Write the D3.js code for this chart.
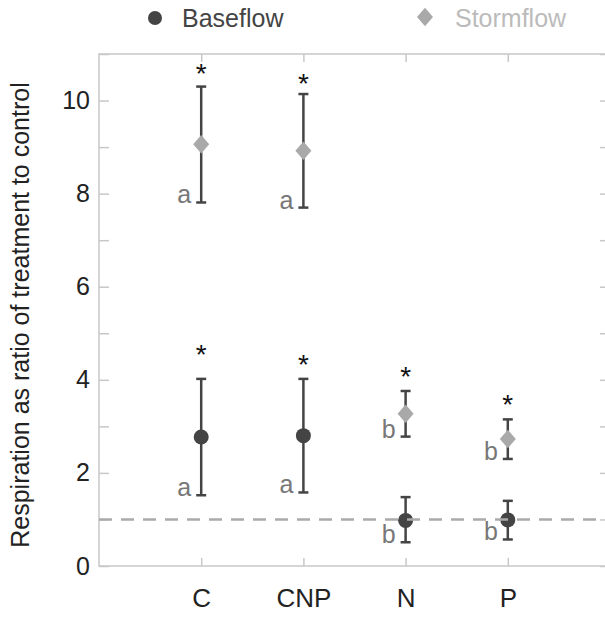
<!DOCTYPE html>
<html><head><meta charset="utf-8">
<script src="https://cdn.jsdelivr.net/npm/d3@7"></script>
<style>body{margin:0;background:#fff}svg{display:block}text{font-family:"Liberation Sans",Arial,sans-serif}</style>
</head><body>
<script>
const categories = ["C","CNP","N","P"];
const baseMean  = [2.77, 2.80, 0.98, 0.99];
const baseLow   = [1.52, 1.58, 0.51, 0.57];
const baseHigh  = [4.02, 4.02, 1.48, 1.40];
const stormMean = [9.06, 8.92, 3.27, 2.73];
const stormLow  = [7.81, 7.70, 2.78, 2.30];
const stormHigh = [10.30, 10.14, 3.76, 3.15];
const baseLetters  = ["a","a","b","b"];
const stormLetters = ["a","a","b","b"];
const baseStarY  = [4.69, 4.47, null, null];
const stormStarY = [10.72, 10.50, 4.21, 3.60];
const yTicks = [0,2,4,6,8,10];
const yMinorTicks = [0,1,2,3,4,5,6,7,8,9,10,11];
const refLine = 1;
const seriesNames = ["Baseflow","Stormflow"];

const W=605,H=617;
const svg=d3.select("body").append("svg").attr("width",W).attr("height",H);
const x=d3.scaleLinear().domain([0,5]).range([99,610]);
const y=d3.scaleLinear().domain([0,11]).range([566,54]);
const frame="#c8c8c8";
const dark="#444", light="#a9a9a9";

const g=svg.append("g");
g.append("rect").attr("x",x(0)).attr("y",y(11)).attr("width",x(5)-x(0)).attr("height",y(0)-y(11))
 .attr("fill","none").attr("stroke",frame).attr("stroke-width",1.5);
const left=svg.append("g").attr("transform",`translate(${x(0)},0)`)
 .call(d3.axisRight(y).tickValues(yMinorTicks).tickSize(10).tickFormat(""));
left.select(".domain").remove();
left.selectAll("line").attr("stroke",frame).attr("stroke-width",1.5);
const right=svg.append("g").attr("transform",`translate(${x(5)},0)`)
 .call(d3.axisLeft(y).tickValues(yMinorTicks).tickSize(10).tickFormat(""));
right.select(".domain").remove();
right.selectAll("line").attr("stroke",frame).attr("stroke-width",1.5);
const yl=svg.append("g").attr("transform",`translate(${x(0)-6},0)`)
 .call(d3.axisLeft(y).tickValues(yTicks).tickSize(0).tickFormat(d3.format("d")));
yl.select(".domain").remove();
yl.selectAll("text").attr("font-size",25).attr("fill","#222").attr("font-family","Liberation Sans, Arial, sans-serif");
const cx=i=>x(i+1);
const xb=svg.append("g").attr("transform",`translate(0,${y(0)})`)
 .call(d3.axisTop(x).tickValues([1,2,3,4]).tickSize(8).tickFormat(""));
xb.select(".domain").remove();
xb.selectAll("line").attr("stroke",frame).attr("stroke-width",1.5);
const xt=svg.append("g").attr("transform",`translate(0,${y(11)})`)
 .call(d3.axisBottom(x).tickValues([1,2,3,4]).tickSize(8).tickFormat(""));
xt.select(".domain").remove();
xt.selectAll("line").attr("stroke",frame).attr("stroke-width",1.5);
const xl=svg.append("g").attr("transform",`translate(0,${y(0)+20})`)
 .call(d3.axisBottom(x).tickValues([1,2,3,4]).tickSize(0).tickFormat((d,i)=>categories[i]));
xl.select(".domain").remove();
xl.selectAll("text").attr("font-size",26).attr("fill","#222").attr("font-family","Liberation Sans, Arial, sans-serif");

svg.append("text").attr("transform",`translate(29,${(y(0)+y(11))/2+5}) rotate(-90)`)
 .attr("text-anchor","middle").attr("font-size",25).attr("fill","#222")
 .text("Respiration as ratio of treatment to control");

function errbars(lo,hi){
  const eg=svg.append("g").attr("stroke",dark).attr("stroke-width",2.5);
  categories.forEach((c,i)=>{
    eg.append("line").attr("x1",cx(i)).attr("x2",cx(i)).attr("y1",y(lo[i])).attr("y2",y(hi[i]));
    [lo[i],hi[i]].forEach(v=>eg.append("line").attr("x1",cx(i)-5).attr("x2",cx(i)+5).attr("y1",y(v)).attr("y2",y(v)));
  });
}
errbars(stormLow,stormHigh);
errbars(baseLow,baseHigh);
const diamond=(px,py,s)=>`M${px},${py-s*1.15}L${px+s},${py}L${px},${py+s*1.15}L${px-s},${py}Z`;
svg.append("g").selectAll("path").data(stormMean).join("path")
 .attr("d",(d,i)=>diamond(cx(i),y(d),8)).attr("fill",light);
svg.append("g").selectAll("circle").data(baseMean).join("circle")
 .attr("cx",(d,i)=>cx(i)).attr("cy",d=>y(d)).attr("r",7.5).attr("fill",dark);
svg.append("line").attr("x1",x(0)).attr("x2",x(5)).attr("y1",y(refLine)).attr("y2",y(refLine))
 .attr("stroke","#aaa").attr("stroke-width",2.5).attr("stroke-dasharray","13,9");
function letters(lo,labels){
  svg.append("g").selectAll("text").data(labels).join("text")
   .attr("x",(d,i)=>cx(i)-10).attr("y",(d,i)=>y(lo[i])+1).attr("text-anchor","end")
   .attr("font-size",25).attr("fill","#777").text(d=>d);
}
letters(stormLow,stormLetters);
letters(baseLow,baseLetters);
function stars(sy){
  svg.append("g").selectAll("text").data(sy.map((v,i)=>({v,i})).filter(d=>d.v!=null)).join("text")
   .attr("x",d=>cx(d.i)).attr("y",d=>y(d.v)+16).attr("text-anchor","middle")
   .attr("font-size",28).attr("fill","#111").text("*");
}
stars(stormStarY);stars(baseStarY);

const lg=svg.append("g");
lg.append("circle").attr("cx",155).attr("cy",18).attr("r",7).attr("fill",dark);
lg.append("text").attr("x",182).attr("y",27).attr("font-size",25).attr("fill","#444").text(seriesNames[0]);
lg.append("path").attr("d",diamond(425,17,8)).attr("fill",light);
lg.append("text").attr("x",455).attr("y",27).attr("font-size",25).attr("fill","#bbb").text(seriesNames[1]);
</script>
</body></html>
